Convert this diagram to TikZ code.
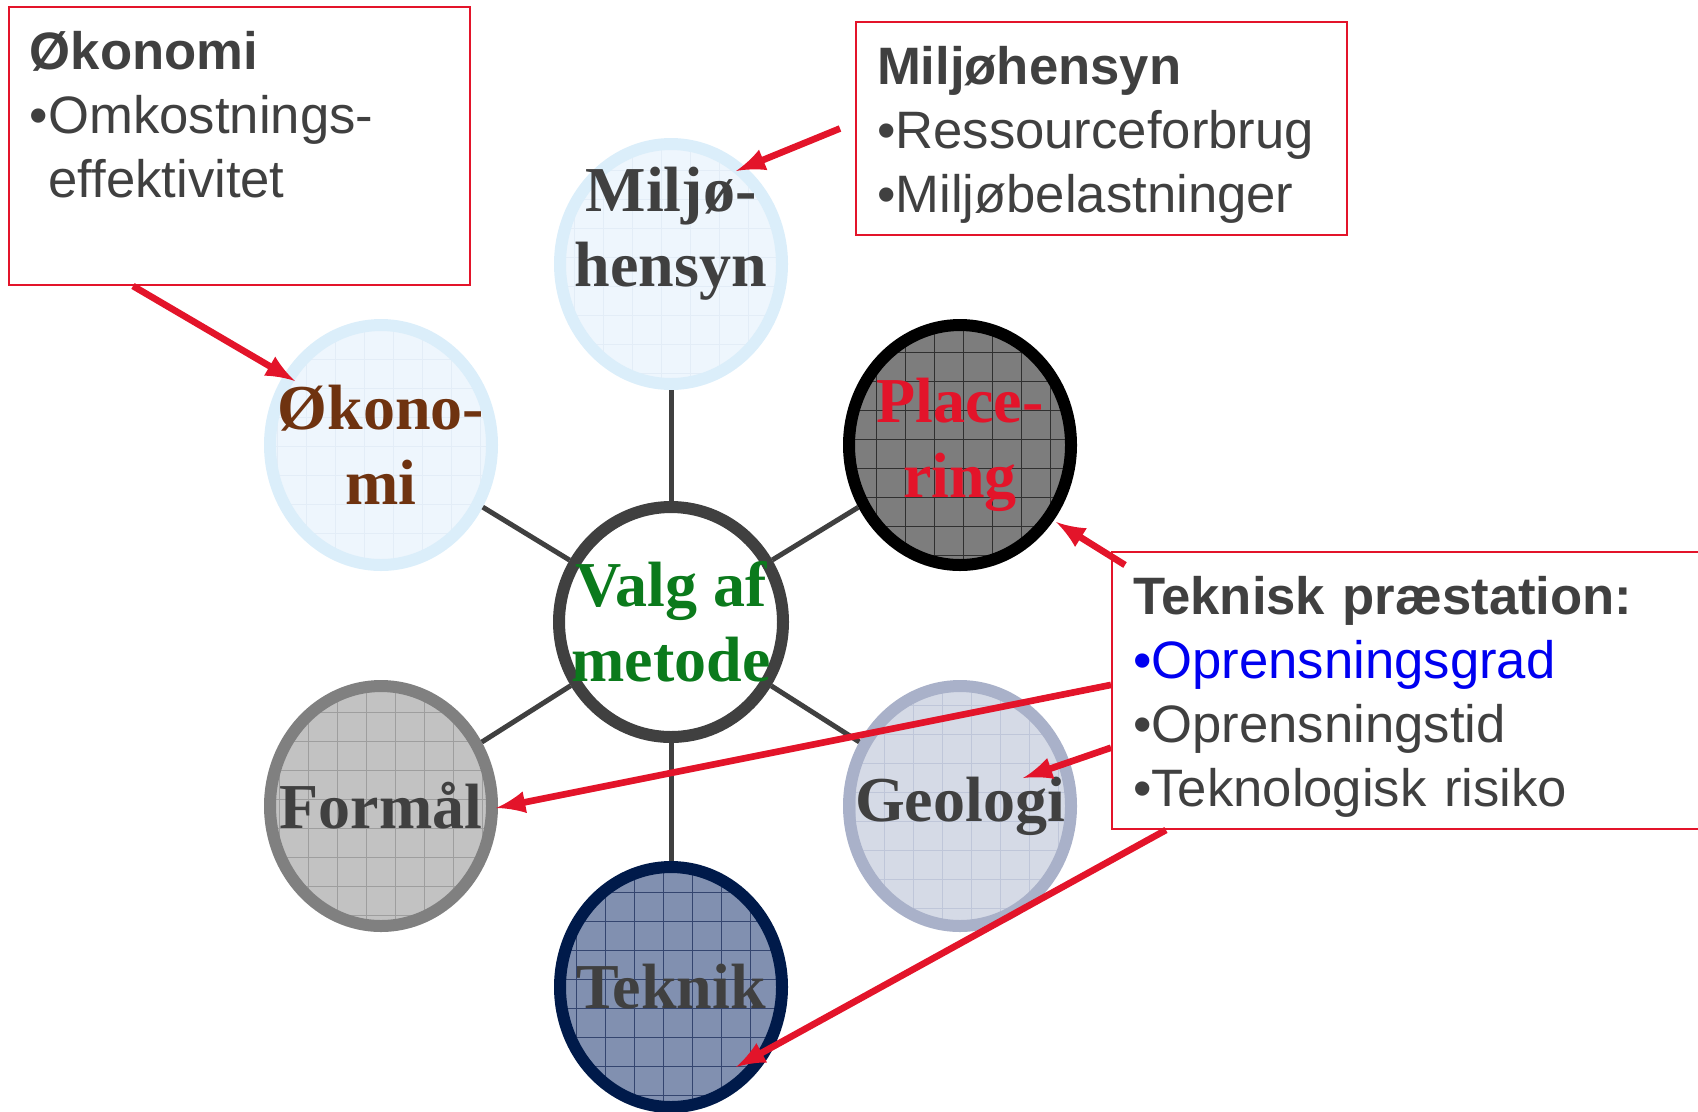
\documentclass[tikz,border=0pt]{standalone}
\usepackage{fontspec}
\setmainfont{Liberation Serif}
\setsansfont{Liberation Sans}
\definecolor{cRed}{HTML}{E3142A}
\definecolor{cText}{HTML}{404040}
\definecolor{cBrown}{HTML}{6F3310}
\definecolor{cGreen}{HTML}{0B7A1C}
\definecolor{cBlue}{HTML}{0000F0}
\definecolor{cIceRing}{HTML}{DBEEFA}
\definecolor{cIceFill}{HTML}{EEF6FD}
\definecolor{cIceGrid}{HTML}{E3EDF7}
\definecolor{cStone}{HTML}{7D7D7D}
\definecolor{cStoneGrid}{HTML}{303030}
\definecolor{cSilver}{HTML}{C2C2C2}
\definecolor{cSilverGrid}{HTML}{9E9E9E}
\definecolor{cSilverRing}{HTML}{808080}
\definecolor{cMist}{HTML}{D5DAE6}
\definecolor{cMistGrid}{HTML}{BFC6D9}
\definecolor{cMistRing}{HTML}{A9B1C9}
\definecolor{cSlate}{HTML}{8190B0}
\definecolor{cSlateGrid}{HTML}{34456F}
\definecolor{cNavy}{HTML}{001A4A}
\usetikzlibrary{shapes,arrows}
\usetikzlibrary{calc}

\tikzset{
  topic/.style={ellipse, line width=3.6pt, minimum width=66.6pt, minimum height=72pt, inner sep=-10pt, align=center, text=cText, font=\fontsize{19.2}{22.5}\selectfont\bfseries},
  patch/.style 2 args={fill=#1, path picture={\draw[#2, line width=0.3pt, step=8.7pt] (path picture bounding box.south west) grid (path picture bounding box.north east);}},
  infobox/.style={draw=cRed, line width=0.6pt, anchor=north west, inner xsep=6.3pt, inner ysep=0pt, text height=18.6pt, align=left, text=cText, font=\sffamily\fontsize{15.8}{19.2}\selectfont},
  spoke/.style={draw=cText, line width=1.5pt},
  pointer/.style={draw=cRed, line width=2pt, -latex}
}

\begin{document}
\begin{tikzpicture}[x=0.3pt, y=-0.3pt]
	\useasboundingbox (0,0) rectangle (1698,1111);
	% info boxes
	\node[infobox, text width=125.7pt, text depth=64.8pt] (okbox) at (8,6) {\textbf{Økonomi}\\\textbullet Omkostnings-\\\phantom{\textbullet}effektivitet};
	\node[infobox, text width=134.7pt, text depth=45.3pt] (miljobox) at (855,21) {\textbf{Miljøhensyn}\\\textbullet Ressourceforbrug\\\textbullet Miljøbelastninger};
	\node[infobox, text width=170pt, text depth=64.5pt] (tekbox) at (1111,551) {\textbf{Teknisk præstation:}\\\textcolor{cBlue}{\textbullet Oprensningsgrad}\\\textbullet Oprensningstid\\\textbullet Teknologisk risiko};
	% circles
	\node[topic, draw=cIceRing, patch={cIceFill}{cIceGrid}, text depth=22.5pt] (miljo) at (671,264) {Miljø-\\hensyn};
	\node[topic, draw=cIceRing, patch={cIceFill}{cIceGrid}, text=cBrown] (okonomi) at (381,445) {Økono-\\mi};
	\node[topic, draw=black, patch={cStone}{cStoneGrid}, text=cRed] (placering) at (960,445) {Place-\\ring};
	\node[topic, draw=cText, fill=white, text=cGreen, minimum width=67.2pt, minimum height=69pt] (valg) at (671,622) {Valg af\\metode};
	\node[topic, draw=cSilverRing, patch={cSilver}{cSilverGrid}] (formal) at (381,806) {Formål};
	\node[topic, draw=cMistRing, patch={cMist}{cMistGrid}] (geologi) at (960,806) {Geologi};
	\node[topic, draw=cNavy, patch={cSlate}{cSlateGrid}] (teknik) at (671,987) {Teknik};
	\foreach \n in {miljo,okonomi,placering,formal,geologi,teknik}
		\draw[spoke] (valg) -- (\n);
	% pointers
	\draw[pointer] ($(okbox.south west)!0.27!(okbox.south east)$) -- ($(okonomi)+(-86,-64)$);
	\draw[pointer] ([xshift=-4.5pt]miljobox.west) -- ($(miljo)+(65,-93)$);
	\draw[pointer] ($(tekbox.north west)+(14,14)$) -- ($(placering)+(96,77)$);
	\draw[pointer] ($(tekbox.north west)!0.48!(tekbox.south west)$) -- ($(formal)+(115,2)$);
	\draw[pointer] ($(tekbox.north west)!0.705!(tekbox.south west)$) -- ($(geologi)+(63,-28)$);
	\draw[pointer] ($(tekbox.south west)!0.09!(tekbox.south east)$) -- ($(teknik)+(65,80)$);
\end{tikzpicture}
\end{document}
